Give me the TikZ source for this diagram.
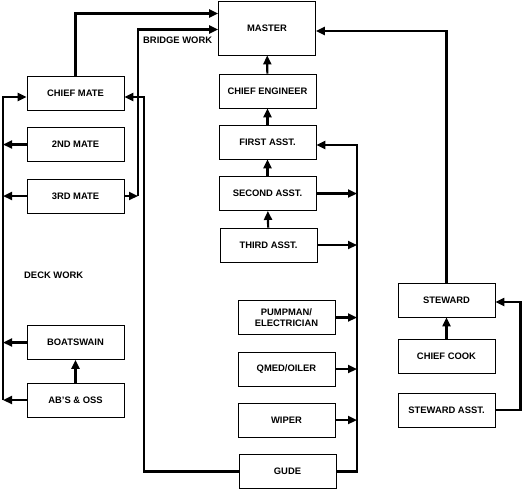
\documentclass[tikz,border=0pt]{standalone}
\usepackage{fontspec}
\setmainfont{Liberation Sans}
\usepackage{tikz}
\usetikzlibrary{positioning,arrows.meta,calc}
\tikzset{
  rankbox/.style={rectangle,draw=black,line width=0.9pt,inner sep=0pt,
    font=\fontsize{9.4}{11}\selectfont\bfseries,align=center,
    minimum width=97pt,minimum height=34pt},
  flow/.style={line width=2.2pt,-{Triangle[length=9pt,width=8pt]}},
  worklabel/.style={font=\fontsize{9.4}{11}\selectfont\bfseries,anchor=west,inner sep=0pt}
}
\begin{document}
\begin{tikzpicture}[x=1pt,y=-1pt]
\useasboundingbox (0,0) rectangle (522,490);
% engine department
\node[rankbox,minimum height=54pt] (master) at (267,28) {MASTER};
\node[rankbox] (chiefeng) at (267.5,91) {CHIEF ENGINEER};
\node[rankbox] (firstasst) at (267.5,142) {FIRST ASST.};
\node[rankbox] (secondasst) at (267.5,193.5) {SECOND ASST.};
\node[rankbox] (thirdasst) at (268.5,245) {THIRD ASST.};
\node[rankbox] (pumpman) at (286.5,317.5) {PUMPMAN/\\ELECTRICIAN};
\node[rankbox] (qmed) at (286.5,369) {QMED/OILER};
\node[rankbox] (wiper) at (286.5,420) {WIPER};
\node[rankbox] (gude) at (287.5,471.5) {GUDE};
% steward department
\node[rankbox] (steward) at (446.5,300) {STEWARD};
\node[rankbox] (chiefcook) at (446.5,356) {CHIEF COOK};
\node[rankbox] (stewardasst) at (446.5,410) {STEWARD ASST.};
% deck department
\node[rankbox] (chiefmate) at (75.5,93) {CHIEF MATE};
\node[rankbox] (secondmate) at (75.5,144.5) {2ND MATE};
\node[rankbox] (thirdmate) at (75.5,196) {3RD MATE};
\node[rankbox] (boatswain) at (75.5,342.5) {BOATSWAIN};
\node[rankbox] (absoss) at (75.5,400) {AB'S \& OSS};
\node[worklabel] (decklbl) at (24,275) {DECK WORK};
\node[worklabel] (bridgelbl) at (143,40) {BRIDGE WORK};
% bus lines
\coordinate (deckx) at (3,0);
\coordinate (bridgex) at (138,0);
\coordinate (mainx) at (144,0);
\coordinate (engx) at (357,0);
\coordinate (stwx) at (520.5,0);
% vertical chains
\draw[flow] (chiefeng) -- (master);
\draw[flow] (firstasst) -- (chiefeng);
\draw[flow] (secondasst) -- (firstasst);
\draw[flow] (thirdasst) -- (secondasst);
\draw[flow] (chiefcook) -- (steward);
\draw[flow] (absoss) -- (boatswain);
% to the master
\draw[flow] (chiefmate.north) |- ([yshift=14.5pt]master.west);
\draw[flow] (thirdmate.east) -- (thirdmate.east -| bridgex);
\draw[flow] (thirdmate.east -| bridgex) |- ([yshift=-1.5pt]master.west);
\draw[flow] (steward.north) |- ([yshift=-3pt]master.east);
\draw[flow] (stewardasst.east) -- (stewardasst.east -| stwx) |- ([yshift=-2pt]steward.east);
% deck work
\foreach \n in {secondmate,thirdmate,boatswain,absoss}
  \draw[flow] (\n.west) -- (\n.west -| deckx);
\draw[flow] (absoss.west -| deckx) |- ([yshift=-4pt]chiefmate.west);
% engine work
\foreach \n in {secondasst,thirdasst,pumpman,qmed,wiper}
  \draw[flow] (\n.east) -- (\n.east -| engx);
\draw[flow] (gude.east) -- (gude.east -| engx) |- ([yshift=-3pt]firstasst.east);
\draw[flow] (gude.west) -- (gude.west -| mainx) |- ([yshift=-4pt]chiefmate.east);
\end{tikzpicture}
\end{document}
